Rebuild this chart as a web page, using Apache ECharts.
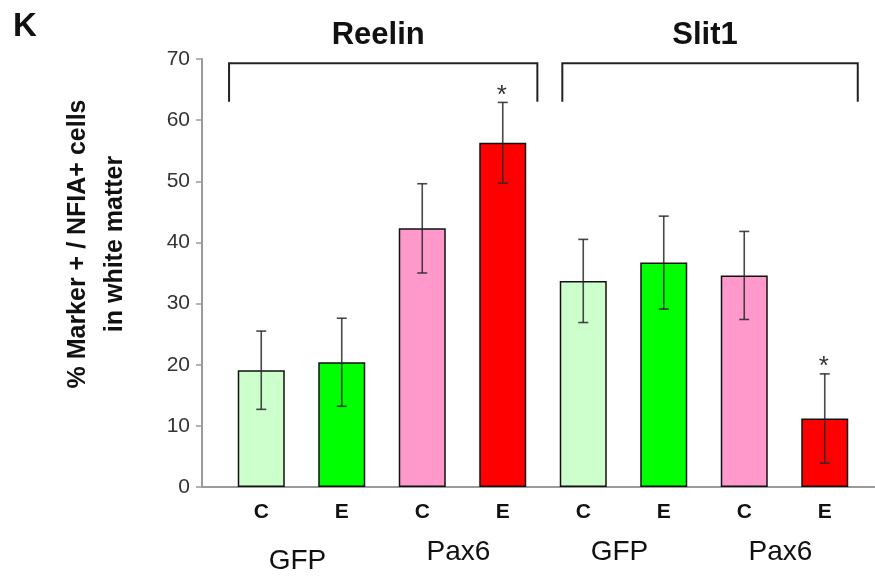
<!DOCTYPE html>
<html>
<head>
<meta charset="utf-8">
<script src="https://cdn.jsdelivr.net/npm/echarts@6/dist/echarts.min.js"></script>
<style>
html,body{margin:0;padding:0;background:#fff;}
#chart{width:875px;height:578px;}
</style>
</head>
<body>
<div id="chart"></div>
<script>
// ---- data ----
const panelLabel = 'K';
const markers = ['Reelin', 'Slit1'];
const groups = ['GFP', 'Pax6', 'GFP', 'Pax6'];
const conditions = ['C', 'E', 'C', 'E', 'C', 'E', 'C', 'E'];
const means = [19.1, 20.4, 42.3, 56.3, 33.7, 36.7, 34.6, 11.2];
const errors = [6.4, 7.2, 7.3, 6.6, 6.8, 7.6, 7.2, 7.3];
const significant = [false, false, false, true, false, false, false, true];
const yTicks = [0, 10, 20, 30, 40, 50, 60, 70];
const yTitle = ['% Marker + / NFIA+ cells', 'in white matter'];

// ---- style ----
const barColors = ['#ccffcc', '#00ff00', '#ff99cc', '#ff0000', '#ccffcc', '#00ff00', '#ff99cc', '#ff0000'];
const FONT = '"Liberation Sans", Arial, sans-serif';

const chart = echarts.init(document.getElementById('chart'), null, {renderer: 'canvas'});

const option = {
  animation: false,
  backgroundColor: '#ffffff',
  grid: {left: 221, right: 10, top: 59, bottom: 91, containLabel: false},
  xAxis: {
    type: 'category',
    data: conditions,
    axisLine: {show: false},
    axisTick: {show: false},
    axisLabel: {
      margin: 15, fontSize: 21, fontWeight: 'bold', color: '#111', fontFamily: FONT,
      interval: 0
    }
  },
  yAxis: {
    type: 'value',
    min: yTicks[0], max: yTicks[yTicks.length - 1], interval: 10,
    offset: 19,
    axisLine: {show: true, lineStyle: {color: '#9a9a9a', width: 2}},
    axisTick: {show: true, length: 6, lineStyle: {color: '#9a9a9a', width: 1.5}},
    splitLine: {show: false},
    axisLabel: {margin: 12, fontSize: 21, color: '#333', fontFamily: FONT}
  },
  series: [
    {
      type: 'bar',
      data: means.map((v, i) => ({value: v, itemStyle: {color: barColors[i]}})),
      barWidth: 47,
      itemStyle: {borderColor: '#111', borderWidth: 1.5},
      z: 2
    },
    {
      type: 'custom',
      z: 5,
      data: means.map((v, i) => [i, v, errors[i], significant[i] ? 1 : 0]),
      renderItem: function (params, api) {
        const i = api.value(0), m = api.value(1), e = api.value(2), sig = api.value(3);
        const top = api.coord([i, m + e]);
        const bot = api.coord([i, m - e]);
        const cap = 5;
        const st = {stroke: 'rgba(40,40,40,0.85)', lineWidth: 1.6};
        const children = [
          {type: 'line', shape: {x1: top[0], y1: top[1], x2: bot[0], y2: bot[1]}, style: st},
          {type: 'line', shape: {x1: top[0] - cap, y1: top[1], x2: top[0] + cap, y2: top[1]}, style: st},
          {type: 'line', shape: {x1: bot[0] - cap, y1: bot[1], x2: bot[0] + cap, y2: bot[1]}, style: st}
        ];
        if (sig) {
          children.push({
            type: 'text',
            style: {x: top[0] - 1, y: top[1] - 7, text: '*', fontSize: 26, fontFamily: FONT,
              fill: '#333', align: 'center', verticalAlign: 'middle'}
          });
        }
        return {type: 'group', children: children};
      }
    }
  ]
};
chart.setOption(option);

// ---- annotations placed through the axes ----
function px(idx, val) { return chart.convertToPixel({gridIndex: 0}, [idx, val]); }
const band = px(1, 0)[0] - px(0, 0)[0];
const y0 = px(0, 0)[1];
const yAxisX = px(0, 0)[0] - band / 2 - 19;
const graphics = [];

// x axis baseline from y axis to the right edge
graphics.push({type: 'line', shape: {x1: yAxisX, y1: y0, x2: 875, y2: y0},
  style: {stroke: '#9a9a9a', lineWidth: 2}, z: 1});

// bracket definitions (first and last category for each marker)
const bracketSpans = [[0, 3], [4, 7]];
const bracketOffsets = [[-0.40, 0.43], [-0.26, 0.41]];
const bracketTop = px(0, 69.3)[1];
const bracketBottom = px(0, 63.0)[1];
bracketSpans.forEach((s, k) => {
  const xl = px(s[0], 0)[0] + bracketOffsets[k][0] * band;
  const xr = px(s[1], 0)[0] + bracketOffsets[k][1] * band;
  graphics.push({type: 'polyline',
    shape: {points: [[xl, bracketBottom], [xl, bracketTop], [xr, bracketTop], [xr, bracketBottom]]},
    style: {stroke: '#222', lineWidth: 2, fill: null}});
  graphics.push({type: 'text', style: {x: (xl + xr) / 2 - 5, y: 35, text: markers[k],
    fontSize: 31, fontWeight: 'bold', fontFamily: FONT, fill: '#111', align: 'center', verticalAlign: 'middle'}});
});

// group labels beneath pairs of bars
groups.forEach((g, k) => {
  const xm = (px(2 * k, 0)[0] + px(2 * k + 1, 0)[0]) / 2 - 4;
  graphics.push({type: 'text', style: {x: xm, y: k === 0 ? 561 : 552, text: g,
    fontSize: 28, fontFamily: FONT, fill: '#111', align: 'center', verticalAlign: 'middle'}});
});

// y axis title (two lines, rotated)
graphics.push({type: 'text', x: 78, y: 244, rotation: Math.PI / 2,
  style: {x: 0, y: 0, text: yTitle[0], fontSize: 25, fontWeight: 'bold', fontFamily: FONT,
    fill: '#111', align: 'center', verticalAlign: 'middle'}});
graphics.push({type: 'text', x: 115, y: 244, rotation: Math.PI / 2,
  style: {x: 0, y: 0, text: yTitle[1], fontSize: 25, fontWeight: 'bold', fontFamily: FONT,
    fill: '#111', align: 'center', verticalAlign: 'middle'}});

// panel label
graphics.push({type: 'text', style: {x: 13, y: 27, text: panelLabel, fontSize: 33, fontWeight: 'bold',
  fontFamily: FONT, fill: '#111', align: 'left', verticalAlign: 'middle'}});

chart.setOption({graphic: graphics});
</script>
</body>
</html>
